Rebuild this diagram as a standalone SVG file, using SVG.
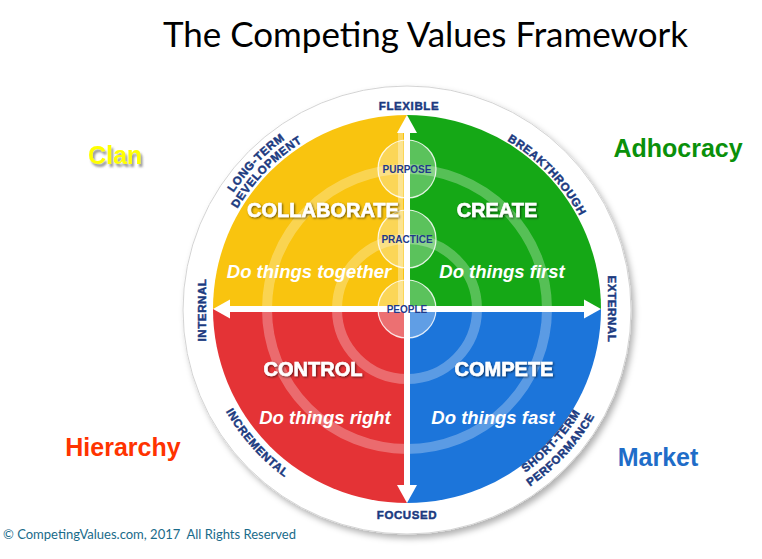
<svg xmlns="http://www.w3.org/2000/svg" xmlns:xlink="http://www.w3.org/1999/xlink" width="762" height="559" viewBox="0 0 762 559">
<defs>
<style>
.lbl{font-family:"Liberation Sans",Arial,sans-serif;font-weight:bold;font-size:11.5px;fill:#1b3a80;stroke:#1b3a80;stroke-width:0.45px;letter-spacing:0.6px}
.core{font-family:"Liberation Sans",Arial,sans-serif;font-weight:bold;font-size:10px;fill:#1f3a8a;text-anchor:middle}
.qt{font-family:"Liberation Sans",Arial,sans-serif;font-weight:bold;font-size:20px;fill:#fff;stroke:#fff;stroke-width:0.6px;text-anchor:middle}
.qs{font-family:"Liberation Sans",Arial,sans-serif;font-weight:bold;font-style:italic;font-size:18.5px;fill:#fff;text-anchor:middle}
.corner{font-family:"Liberation Sans",Arial,sans-serif;font-weight:bold;font-size:25px}
.ring{fill:none;stroke:#fff;stroke-opacity:0.28;stroke-width:10}
.dot{fill:#fff;fill-opacity:0.3;stroke:#fff;stroke-opacity:0.85;stroke-width:1.2}
.arrow{fill:#fff}
</style>
<filter id="shadow" x="-10%" y="-10%" width="125%" height="125%">
<feDropShadow dx="3" dy="4" stdDeviation="3" flood-color="#000" flood-opacity="0.3"/>
</filter>
<filter id="ts" x="-10%" y="-30%" width="120%" height="160%">
<feDropShadow dx="1" dy="1" stdDeviation="0.8" flood-color="#000" flood-opacity="0.6"/>
</filter>
<filter id="cs" x="-10%" y="-30%" width="130%" height="170%">
<feDropShadow dx="2" dy="3" stdDeviation="1.2" flood-color="#555" flood-opacity="0.6"/>
</filter>
<path id="t209" d="M198,309 A209,209 0 0 1 616,309"/>
<path id="t197" d="M210,309 A197,197 0 0 1 604,309"/>
<path id="t196" d="M211,309 A196,196 0 0 1 603,309"/>
<path id="b208" d="M199,309 A208,208 0 0 0 615,309"/>
<path id="b202" d="M205,309 A202,202 0 0 0 609,309"/>
<path id="b216" d="M191,309 A216,216 0 0 0 623,309"/>
<clipPath id="disk"><circle cx="407" cy="309" r="194"/></clipPath>
</defs>

<rect width="762" height="559" fill="#fff"/>

<g id="title">
<text x="163" y="47" font-family="Lato,'Open Sans',sans-serif" font-size="34" fill="#000" textLength="525" lengthAdjust="spacingAndGlyphs">The Competing Values Framework</text>
</g>

<g id="outer-ring">
<circle cx="407" cy="310" r="224" fill="#fff" stroke="#d4d4d4" stroke-width="1" filter="url(#shadow)"/>
</g>

<g id="quadrants">
<path id="q-collaborate" d="M407,309 L213,309 A194,194 0 0 1 407,115 Z" fill="#f9c40f"/>
<path id="q-create" d="M407,309 L407,115 A194,194 0 0 1 601,309 Z" fill="#15a816"/>
<path id="q-compete" d="M407,309 L601,309 A194,194 0 0 1 407,503 Z" fill="#1c75da"/>
<path id="q-control" d="M407,309 L407,503 A194,194 0 0 1 213,309 Z" fill="#e43336"/>
</g>

<g id="rings" clip-path="url(#disk)">
<circle class="ring" cx="407" cy="309" r="70"/>
<circle class="ring" cx="407" cy="309" r="140"/>
<rect x="398" y="133" width="5" height="173" fill="#fff" fill-opacity="0.35"/>
</g>

<g id="core-circles">
<circle class="dot" cx="407" cy="169" r="29"/>
<circle class="dot" cx="407" cy="239" r="29"/>
<circle class="dot" cx="407" cy="309" r="29"/>
</g>

<g id="connectors">
<rect class="arrow" x="404" y="131" width="6" height="356"/>
<polygon class="arrow" points="407,115 397,133 417,133"/>
<polygon class="arrow" points="407,503 397,485 417,485"/>
<rect class="arrow" x="229" y="306" width="356" height="6"/>
<polygon class="arrow" points="213,309 230,299.5 230,318.5"/>
<polygon class="arrow" points="601,309 584,299.5 584,318.5"/>
</g>

<g id="core-labels">
<text class="core" x="407" y="173">PURPOSE</text>
<text class="core" x="407" y="243">PRACTICE</text>
<text class="core" x="407" y="313">PEOPLE</text>
</g>

<g id="node-collaborate">
<text class="qt" x="323" y="217" filter="url(#ts)">COLLABORATE</text>
<text class="qs" x="309" y="278">Do things together</text>
</g>
<g id="node-create">
<text class="qt" x="497" y="217" filter="url(#ts)">CREATE</text>
<text class="qs" x="502" y="278">Do things first</text>
</g>
<g id="node-control">
<text class="qt" x="313" y="376" filter="url(#ts)">CONTROL</text>
<text class="qs" x="325" y="424">Do things right</text>
</g>
<g id="node-compete">
<text class="qt" x="504" y="376" filter="url(#ts)">COMPETE</text>
<text class="qs" x="493" y="424">Do things fast</text>
</g>

<g id="axis-labels">
<text class="lbl" x="409" y="110" text-anchor="middle">FLEXIBLE</text>
<text class="lbl" x="407" y="519" text-anchor="middle">FOCUSED</text>
<text class="lbl" transform="translate(206,310) rotate(-90)" text-anchor="middle">INTERNAL</text>
<text class="lbl" transform="translate(608,309) rotate(90)" text-anchor="middle">EXTERNAL</text>
<text class="lbl" text-anchor="middle"><textPath xlink:href="#t209" href="#t209" startOffset="24.5%">LONG-TERM</textPath></text>
<text class="lbl" text-anchor="middle"><textPath xlink:href="#t197" href="#t197" startOffset="24.6%">DEVELOPMENT</textPath></text>
<text class="lbl" text-anchor="middle"><textPath xlink:href="#t196" href="#t196" startOffset="75.7%">BREAKTHROUGH</textPath></text>
<text class="lbl" text-anchor="middle"><textPath xlink:href="#b208" href="#b208" startOffset="23.2%">INCREMENTAL</textPath></text>
<text class="lbl" text-anchor="middle"><textPath xlink:href="#b202" href="#b202" startOffset="76.4%">SHORT-TERM</textPath></text>
<text class="lbl" text-anchor="middle"><textPath xlink:href="#b216" href="#b216" startOffset="76.4%">PERFORMANCE</textPath></text>
</g>

<g id="culture-labels">
<text id="clan" class="corner" x="115" y="164" text-anchor="middle" fill="#ffff00" filter="url(#cs)">Clan</text>
<text id="adhocracy" class="corner" x="678" y="157" text-anchor="middle" fill="#0a900a">Adhocracy</text>
<text id="hierarchy" class="corner" x="123" y="456" text-anchor="middle" fill="#ff3300">Hierarchy</text>
<text id="market" class="corner" x="658" y="466" text-anchor="middle" fill="#1f6dc8">Market</text>
</g>

<g id="footer">
<text x="3" y="539" font-family="Lato,'Open Sans',sans-serif" font-size="13" fill="#1a6b8a" textLength="293" lengthAdjust="spacingAndGlyphs" xml:space="preserve">© CompetingValues.com, 2017  All Rights Reserved</text>
</g>
</svg>
